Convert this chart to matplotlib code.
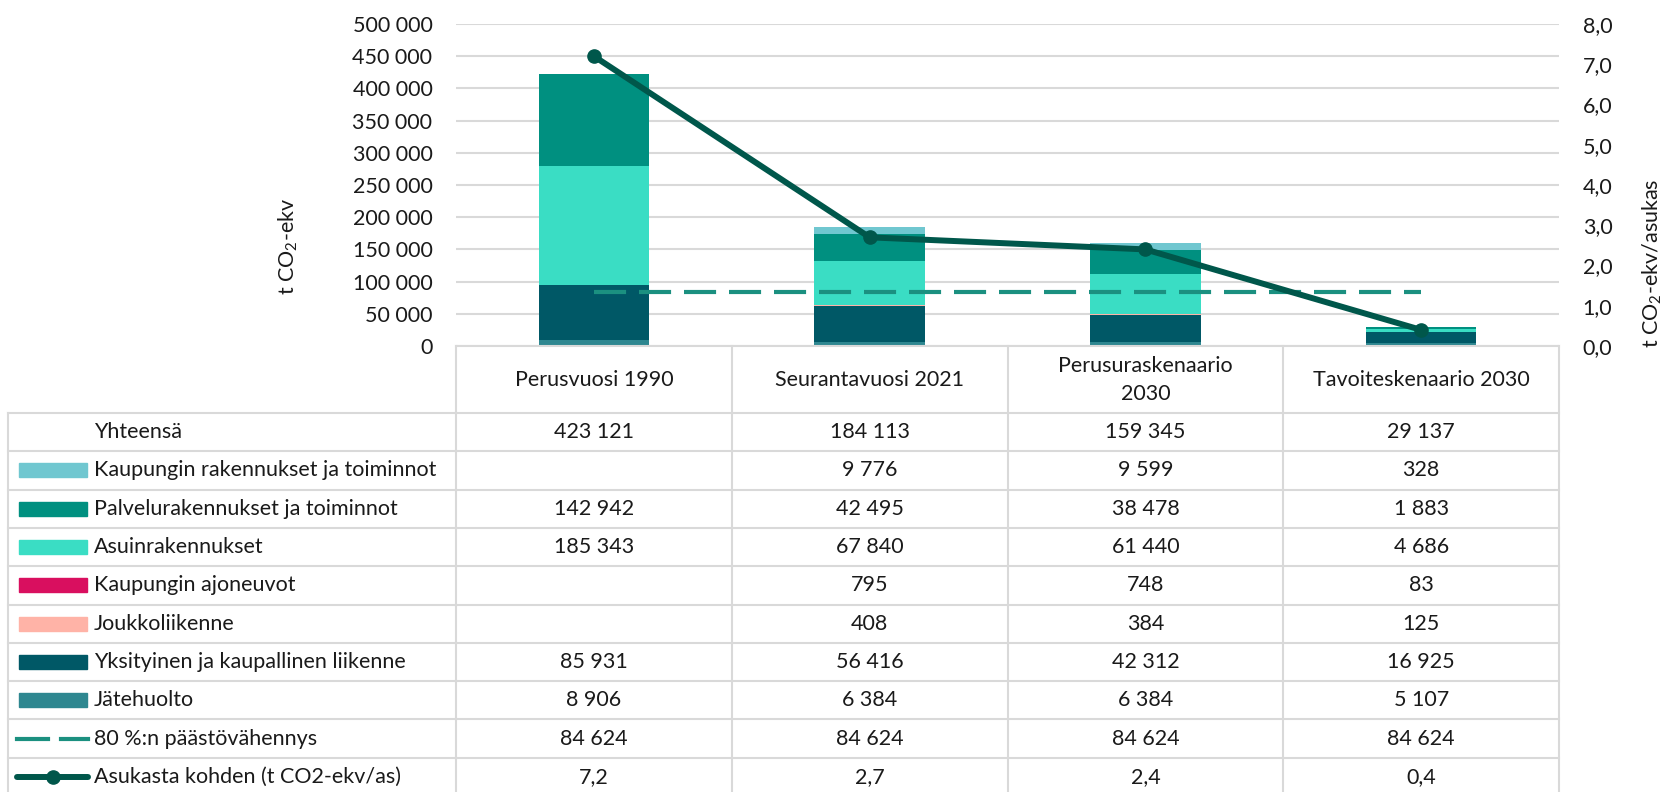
import numpy as np
import matplotlib
matplotlib.use('Agg')
import matplotlib.pyplot as plt
from matplotlib.patches import Rectangle
from matplotlib.lines import Line2D
from matplotlib.transforms import blended_transform_factory

plt.rcParams['font.family'] = ['Lato', 'DejaVu Sans']
plt.rcParams['mathtext.fontset'] = 'custom'
plt.rcParams['mathtext.rm'] = 'Lato'
plt.rcParams['mathtext.it'] = 'Lato:italic'

# Data
categories = ['Perusvuosi 1990', 'Seurantavuosi 2021', 'Perusuraskenaario\n2030', 'Tavoiteskenaario 2030']
totals = [423121, 184113, 159345, 29137]
kaupungin_rak = [np.nan, 9776, 9599, 328]
palvelu = [142942, 42495, 38478, 1883]
asuin = [185343, 67840, 61440, 4686]
ajoneuvot = [np.nan, 795, 748, 83]
joukko = [np.nan, 408, 384, 125]
yksityinen = [85931, 56416, 42312, 16925]
jate = [8906, 6384, 6384, 5107]
target = [84624, 84624, 84624, 84624]
per_capita = [7.2, 2.7, 2.4, 0.4]

# stack order bottom -> top
stack = [
    ('Jätehuolto', jate, '#2E8790'),
    ('Yksityinen ja kaupallinen liikenne', yksityinen, '#005866'),
    ('Joukkoliikenne', joukko, '#FFB3A7'),
    ('Kaupungin ajoneuvot', ajoneuvot, '#D90F5F'),
    ('Asuinrakennukset', asuin, '#3ADDC4'),
    ('Palvelurakennukset ja toiminnot', palvelu, '#009080'),
    ('Kaupungin rakennukset ja toiminnot', kaupungin_rak, '#70C7D0'),
]
dash_color = '#1B9080'
line_color = '#00574B'
grid_color = '#D9D9D9'
text_color = '#1a1a1a'
fs = 15.5

W, H = 1667, 792
fig = plt.figure(figsize=(W / 100, H / 100), dpi=100)

def fy(py):
    return 1 - py / H

def fx(px):
    return px / W

ax = fig.add_axes([fx(456), fy(346), fx(1103), 322 / H])
x = np.arange(len(categories))

bottom = np.zeros(len(categories))
for name, vals, color in stack:
    v = np.nan_to_num(np.array(vals, dtype=float))
    ax.bar(x, v, width=0.4, bottom=bottom, color=color, zorder=2)
    bottom += v

ax.plot(x, target, color=dash_color, lw=3, dashes=(7.7, 3.1), zorder=3)

ax.set_xlim(-0.5, len(categories) - 0.5)
ax.set_ylim(0, 500000)
ax.set_yticks(np.arange(0, 500001, 50000))
ax.set_yticklabels([f'{int(t):,}'.replace(',', ' ') for t in ax.get_yticks()])
ax.set_xticks([])
ax.grid(axis='y', color=grid_color, lw=1.5, zorder=0)
ax.tick_params(axis='y', length=0, pad=17, labelsize=fs, labelcolor=text_color)
for s in ax.spines.values():
    s.set_visible(False)

ax2 = ax.twinx()
ax2.plot(x, per_capita, color=line_color, lw=4.3, marker='o', ms=9.5, zorder=4)
ax2.set_ylim(0, 8)
ax2.set_yticks(np.arange(0, 9, 1))
ax2.set_yticklabels([f'{t:.1f}'.replace('.', ',') for t in np.arange(0, 9, 1)])
ax2.tick_params(axis='y', length=0, pad=17, labelsize=fs, labelcolor=text_color)
for s in ax2.spines.values():
    s.set_visible(False)

fig.text(fx(288), fy(246), 't CO$_2$-ekv', rotation=90, ha='center', va='center',
         fontsize=fs, color=text_color)
fig.text(fx(1652), fy(263), 't CO$_2$-ekv/asukas', rotation=90, ha='center', va='center',
         fontsize=fs, color=text_color)

# data table under the plot
tb = blended_transform_factory(ax.transData, fig.transFigure)
edges = np.arange(len(categories) + 1) - 0.5
head_top, head_bot, row_h = 346, 413, 38.3

rows = [('Yhteensä', totals, 'total', None)]
for name, vals, color in stack[::-1]:
    rows.append((name, vals, 'bar', color))
rows.append(('80 %:n päästövähennys', target, 'dash', dash_color))
rows.append(('Asukasta kohden (t CO2-ekv/as)', per_capita, 'line', line_color))

n = len(rows)
table_bot = head_bot + row_h * n

def hline(x0, x1, py, trans):
    fig.add_artist(Line2D([x0, x1], [fy(py), fy(py)], transform=trans,
                          color=grid_color, lw=1.5, clip_on=False))

def vline(xv, py0, py1, trans):
    fig.add_artist(Line2D([xv, xv], [fy(py0), fy(py1)], transform=trans,
                          color=grid_color, lw=1.5, clip_on=False))

hline(edges[0], edges[-1], head_top, tb)
for e in edges:
    vline(e, head_top, table_bot, tb)
vline(fx(8), head_bot, table_bot, fig.transFigure)
for i in range(n + 1):
    py = head_bot + row_h * i
    hline(fx(8), fx(456), py, fig.transFigure)
    hline(edges[0], edges[-1], py, tb)

for xi, c in zip(x, categories):
    fig.text(xi, fy((head_top + head_bot) / 2), c, transform=tb, ha='center', va='center',
             fontsize=fs, color=text_color, linespacing=1.5)

for i, (name, vals, kind, color) in enumerate(rows):
    cy = head_bot + row_h * i + row_h / 2
    fig.text(fx(94), fy(cy), name, ha='left', va='center', fontsize=fs, color=text_color)
    if kind == 'bar':
        fig.add_artist(Rectangle((fx(19), fy(cy + 7)), fx(68), 14 / H, color=color,
                                 transform=fig.transFigure))
    elif kind == 'dash':
        for a, b in [(17, 48), (61, 88)]:
            fig.add_artist(Line2D([fx(a), fx(b)], [fy(cy), fy(cy)], color=color, lw=3,
                                  transform=fig.transFigure))
    elif kind == 'line':
        fig.add_artist(Line2D([fx(17), fx(88)], [fy(cy), fy(cy)], color=color, lw=4.3,
                              solid_capstyle='round', transform=fig.transFigure))
        fig.add_artist(Line2D([fx(53)], [fy(cy)], color=color, marker='o', ms=9.5,
                              transform=fig.transFigure))
    for xi, v in zip(x, vals):
        if np.isnan(v):
            s = ''
        elif kind == 'line':
            s = f'{v:.1f}'.replace('.', ',')
        else:
            s = f'{int(v):,}'.replace(',', ' ')
        fig.text(xi, fy(cy), s, transform=tb, ha='center', va='center',
                 fontsize=fs, color=text_color)

fig.savefig('out.png', dpi=100)
